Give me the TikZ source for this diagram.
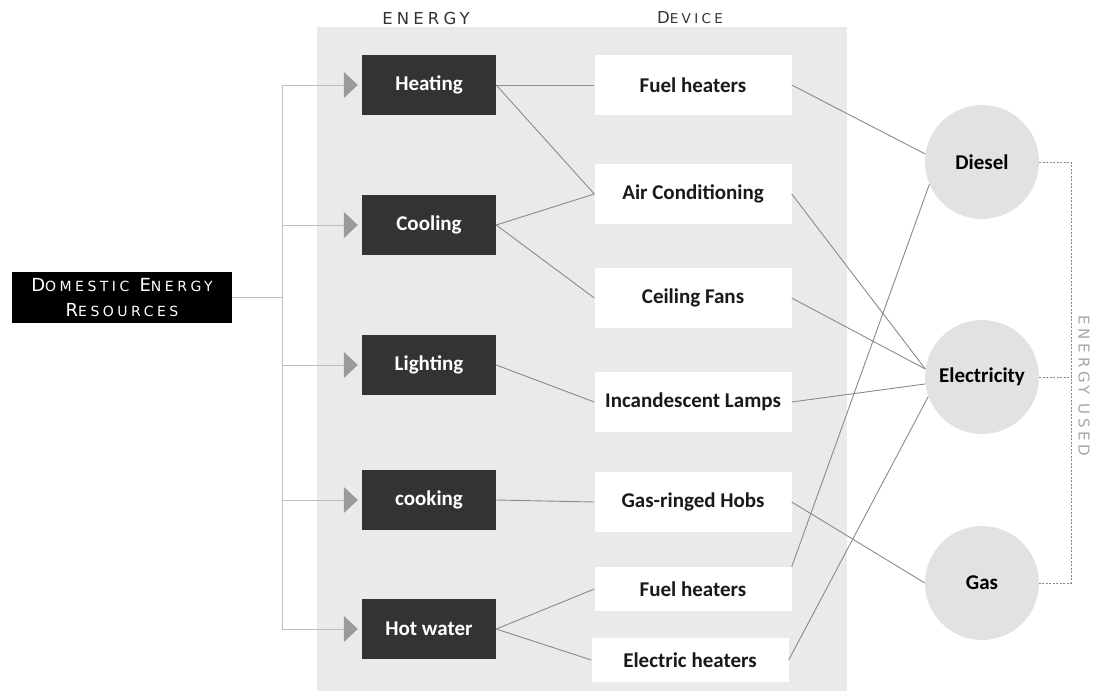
\documentclass[tikz,border=0pt]{standalone}
\usepackage{fontspec}
\usetikzlibrary{positioning, arrows.meta}
\newfontfamily\boxfont{Carlito}
\newfontfamily\capsfont[LetterSpace=25]{DejaVu Sans}
\definecolor{panelgray}{HTML}{EAEAEA}
\definecolor{boxdark}{HTML}{333333}
\definecolor{circgray}{HTML}{E2E2E2}
\definecolor{linkgray}{HTML}{8A8A8A}
\definecolor{feedgray}{HTML}{BDBDBD}
\definecolor{tipgray}{HTML}{9A9A9A}
\newcommand{\lowcap}[1]{{\fontsize{14}{25}\selectfont #1}}

\begin{document}
\begin{tikzpicture}[
      x=1pt, y=-1pt,
      energy/.style={fill=boxdark,text=white,minimum width=134pt,minimum height=60pt,
        inner sep=0pt,font=\boxfont\bfseries\fontsize{21}{24}\selectfont},
      device/.style={fill=white,text=black!90,minimum width=197pt,minimum height=60pt,
        inner sep=0pt,font=\boxfont\bfseries\fontsize{21}{24}\selectfont},
      fuel/.style={circle,fill=circgray,minimum size=114pt,inner sep=0pt,
        font=\boxfont\bfseries\fontsize{21}{24}\selectfont},
      head/.style={text=black!80,inner sep=0pt,font=\capsfont\fontsize{16.5}{18}\selectfont},
      link/.style={draw=linkgray,line width=0.9pt},
      feed/.style={draw=feedgray,line width=1pt},
      tip/.style={-{Triangle[width=26pt,length=14pt,color=tipgray]},shorten >=4pt}
    ]
    \useasboundingbox (0,0) rectangle (1094,691);

    % grey panel
    \fill[panelgray] (317,27) rectangle (847,691);

    % headings
    \node[head] (hE) at (426,18) {ENERGY};
    \node[head] (hD) at (690,18) {D{\fontsize{13.5}{18}\selectfont EVICE}};

    % resources
    \node[fill=black,text=white,minimum width=220pt,minimum height=51pt,inner sep=0pt,
      align=center,font=\capsfont\fontsize{18}{25}\selectfont]
      (res) at (122,297.5) {D\lowcap{OMESTIC} E\lowcap{NERGY}\\R\lowcap{ESOURCES}};

    % energy
    \node[energy] (heat)  at (429,85)  {Heating};
    \node[energy] (cool)  at (429,225) {Cooling};
    \node[energy] (light) at (429,365) {Lighting};
    \node[energy] (cook)  at (429,500) {cooking};
    \node[energy] (hotw)  at (429,629) {Hot water};

    % devices
    \node[device] (fh1)  at (693,85)  {Fuel heaters};
    \node[device] (ac)   at (693,194) {Air Conditioning};
    \node[device] (fans) at (693,298) {Ceiling Fans};
    \node[device] (lamp) at (693,402) {Incandescent Lamps};
    \node[device] (hobs) at (693,502) {Gas-ringed Hobs};
    \node[device,minimum height=44pt] (fh2) at (693,589) {Fuel heaters};
    \node[device,minimum height=44pt] (eh)  at (690,660) {Electric heaters};

    % energy used
    \node[fuel] (diesel) at (982,162) {Diesel};
    \node[fuel] (elec)   at (982,377) {Electricity};
    \node[fuel] (gas)    at (982,583) {Gas};
    \node[head,rotate=-90,text=black!35,font=\capsfont\fontsize{15}{16}\selectfont]
      (used) at (1084,386) {ENERGY USED};

    % feed tree
    \coordinate (split) at (282,297.5);
    \draw[feed] (res.east) -- (split);
    \draw[feed] (split |- heat) -- (split |- hotw);
    \foreach \n in {heat,cool,light,cook,hotw}
      \draw[feed,tip] (split |- \n) -- (\n.west);

    % energy to device
    \draw[link] (heat.east) -- (fh1.west);
    \draw[link] (heat.east) -- (ac.west);
    \draw[link] (cool.east) -- (ac.west);
    \draw[link] (cool.east) -- (fans.west);
    \draw[link] (light.east) -- (lamp.west);
    \draw[link] (cook.east) -- (hobs.west);
    \draw[link] (hotw.east) -- (fh2.west);
    \draw[link] (hotw.east) -- (eh.west);

    % device to source
    \draw[link] (fh1.east) -- (diesel.172);
    \draw[link] (fh2.north east) -- (diesel.203);
    \draw[link] (ac.east) -- (elec.172);
    \draw[link] (fans.east) -- (elec.172);
    \draw[link] (lamp.east) -- (elec.187);
    \draw[link] (eh.east) -- (elec.200);
    \draw[link] (hobs.east) -- (gas.west);

    % bracket
    \coordinate (brk) at (1071,0);
    \draw[linkgray,line width=0.9pt,dash pattern=on 2pt off 1.5pt]
      (diesel.east) -- (diesel.east -| brk) -- (gas.east -| brk) -- (gas.east);
    \draw[linkgray,line width=0.9pt,dash pattern=on 2pt off 1.5pt]
      (elec.east) -- (elec.east -| brk);

    \end{tikzpicture}
\end{document}
